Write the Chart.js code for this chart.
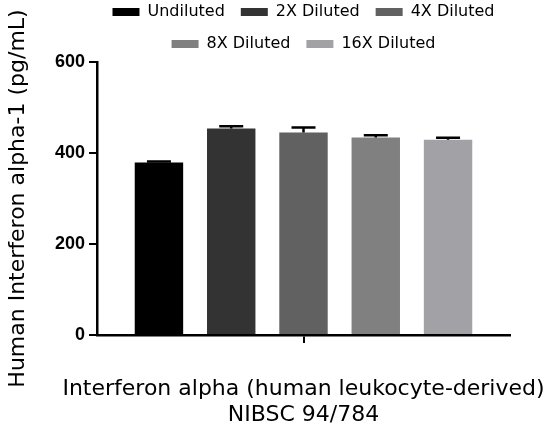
<!DOCTYPE html>
<html>
<head>
<meta charset="utf-8">
<script src="https://cdn.jsdelivr.net/npm/chart.js@4.4.0/dist/chart.umd.min.js"></script>
<style>
  html, body { margin: 0; padding: 0; background: #fff; }
  #wrap { width: 548px; height: 425px; }
</style>
</head>
<body>
<div id="wrap"><canvas id="c" width="548" height="425"></canvas></div>
<script>
const seriesNames = ['Undiluted', '2X Diluted', '4X Diluted', '8X Diluted', '16X Diluted'];
const seriesMeans = [379, 454, 445, 434, 429];
const seriesSD = [5, 7.5, 14, 7.5, 7];
const seriesColors = ['#000000', '#333333', '#616161', '#808080', '#a2a1a6'];
const categoryLabels = [''];
const yTicks = [0, 200, 400, 600];
const xTitleLines = ['Interferon alpha (human leukocyte-derived)', 'NIBSC 94/784'];

// upper error bars, drawn from the y scale
const errorBars = {
    id: 'errorBars',
    afterDatasetsDraw(chart) {
        const ctx = chart.ctx, y = chart.scales.y;
        ctx.save();
        ctx.strokeStyle = '#000';
        ctx.lineWidth = 2.5;
        chart.data.datasets.forEach((ds, i) => {
            const bar = chart.getDatasetMeta(i).data[0];
            const top = y.getPixelForValue(seriesMeans[i] + seriesSD[i]) + 1.25;
            ctx.beginPath();
            ctx.moveTo(bar.x, bar.y);
            ctx.lineTo(bar.x, top);
            ctx.moveTo(bar.x - 12, top);
            ctx.lineTo(bar.x + 12, top);
            ctx.stroke();
        });
        ctx.restore();
    }
};

// x title is wider than the plot, so it is drawn here without the scale's maxWidth squeeze
const xTitle = {
    id: 'xTitle',
    afterDraw(chart) {
        const ctx = chart.ctx, x = chart.scales.x;
        const cx = (x.left + x.right) / 2;
        ctx.save();
        ctx.fillStyle = '#000';
        ctx.font = '22px "DejaVu Sans"';
        ctx.textAlign = 'center';
        ctx.textBaseline = 'alphabetic';
        xTitleLines.forEach((t, i) => ctx.fillText(t, cx, x.top + 60 + i * 26));
        ctx.restore();
    }
};

// legend: fixed height, and a bit wider than the plot so three items fit on the first row
const legendBox = {
    id: 'legendBox',
    beforeInit(chart) {
        const fit = chart.legend.fit;
        chart.legend.fit = function() {
            this.maxWidth = Math.max(this.maxWidth, 447);
            fit.call(this);
            this.height = 74;
        };
    },
    afterLayout(chart) {
        const l = chart.legend, c = (chart.chartArea.left + chart.chartArea.right) / 2;
        l.left = c - 223.5;
        l.right = c + 223.5;
        l.width = 447;
    }
};

new Chart(document.getElementById('c'), {
    type: 'bar',
    data: {
        labels: categoryLabels,
        datasets: seriesNames.map((n, i) => ({
            label: n,
            data: [seriesMeans[i]],
            backgroundColor: seriesColors[i],
            borderWidth: 0,
            barPercentage: 0.67,
            categoryPercentage: 0.875
        }))
    },
    options: {
        responsive: false,
        animation: false,
        layout: { padding: { top: -12, right: 38, left: 0, bottom: 0 } },
        plugins: {
            tooltip: { enabled: false },
            legend: {
                position: 'top',
                fullSize: false,
                labels: {
                    color: '#000',
                    boxWidth: 27,
                    boxHeight: 8,
                    padding: 16,
                    font: { family: 'DejaVu Sans', size: 16 }
                }
            }
        },
        scales: {
            x: {
                grid: { drawOnChartArea: false, offset: false, tickLength: 8, lineWidth: 2, color: '#000' },
                border: { display: true, color: '#000', width: 2.5 },
                ticks: { display: true, font: { size: 1 } },
                afterFit(s) { s.height = 90; }
            },
            y: {
                min: 0,
                max: 600,
                afterBuildTicks(s) { s.ticks = yTicks.map(v => ({ value: v })); },
                grid: { drawOnChartArea: false, tickLength: 8, lineWidth: 2, color: '#000' },
                border: { display: true, color: '#000', width: 2.5 },
                ticks: { color: '#000', padding: 4, font: { family: 'Liberation Sans', size: 18, weight: 'bold' } },
                title: {
                    display: true,
                    text: 'Human Interferon alpha-1 (pg/mL)',
                    color: '#000',
                    font: { family: 'DejaVu Sans', size: 22 },
                    padding: { top: 5, bottom: 0 }
                },
                afterFit(s) { s.width = 97; }
            }
        }
    },
    plugins: [errorBars, xTitle, legendBox]
});
</script>
</body>
</html>
